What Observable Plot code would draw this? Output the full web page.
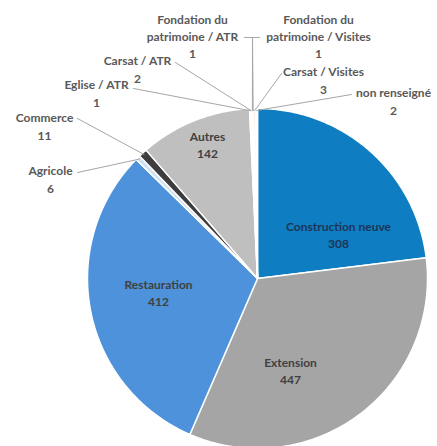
<!DOCTYPE html>
<html>
<head>
<meta charset="utf-8">
<script src="https://cdn.jsdelivr.net/npm/d3@7"></script>
<script src="https://cdn.jsdelivr.net/npm/@observablehq/plot@0.6"></script>
<style>
  html, body { margin: 0; padding: 0; background: #fff; }
  #chart { width: 437px; height: 446px; }
</style>
</head>
<body>
<div id="chart"></div>
<script>
// ---- data ----
const categories = ["Construction neuve", "Extension", "Restauration", "Agricole", "Commerce", "Autres",
  "Eglise / ATR", "Carsat / ATR", "Fondation du patrimoine / ATR", "Fondation du patrimoine / Visites",
  "Carsat / Visites", "non renseigné"];
const values = [308, 447, 412, 6, 11, 142, 1, 2, 1, 1, 3, 2];
const labelNames = ["Construction neuve", "Extension", "Restauration", "Agricole", "Commerce", "Autres",
  "Eglise / ATR", "Carsat / ATR", "Fondation du\npatrimoine / ATR", "Fondation du\npatrimoine / Visites",
  "Carsat / Visites", "non renseigné"];

// ---- styles & layout ----
const colors = ["#0f7dc2", "#a5a5a5", "#4d92da", "#cfe2f3", "#3d3d3d", "#bfbfbf",
  "#f4f4f4", "#efefef", "#f7f7f7", "#f2f2f2", "#fbe4d5", "#f8d9cf"];
const W = 437, H = 446;
const CX = 257, CY = 278, R = 170;
// label block centres (px) ; inside labels flagged
const labelPos = [[338, 234, 1], [290, 370, 1], [158, 292, 1], [50, 178, 0], [44, 125, 0], [207, 144, 1],
  [96, 92, 0], [137, 68, 0], [192, 35, 0], [318, 35, 0], [323, 79, 0], [393, 100, 0]];
// leader start (label side) and optional elbow
const leaderFrom = {
  "Agricole": [[77, 172]],
  "Commerce": [[77, 118]],
  "Eglise / ATR": [[133, 88]],
  "Carsat / ATR": [[175, 62]],
  "Fondation du patrimoine / ATR": [[244, 37], [252, 37]],
  "Fondation du patrimoine / Visites": [[259, 37], [252, 37]],
  "Carsat / Visites": [[281, 73]],
  "non renseigné": [[351, 94]]
};

// ---- geometry ----
const arcs = d3.pie().sort(null).value(d => d)(values);
const pt = (a, r) => [CX + r * Math.sin(a), CY - r * Math.cos(a)];
const slicePts = [];
arcs.forEach((a, i) => {
  const cat = categories[i];
  slicePts.push({cat, x: CX, y: CY});
  const n = Math.max(2, Math.ceil((a.endAngle - a.startAngle) / 0.01));
  for (let k = 0; k <= n; k++) {
    const ang = a.startAngle + (a.endAngle - a.startAngle) * k / n;
    const [x, y] = pt(ang, R);
    slicePts.push({cat, x, y});
  }
});

const leaderPts = [];
Object.entries(leaderFrom).forEach(([cat, pts]) => {
  const i = categories.indexOf(cat);
  const a = arcs[i];
  const mid = (a.startAngle + a.endAngle) / 2;
  pts.forEach(([x, y]) => leaderPts.push({cat, x, y}));
  const [ex, ey] = pt(mid, R - 2);
  leaderPts.push({cat, x: ex, y: ey});
});

const labels = categories.map((c, i) => ({
  cat: c,
  text: labelNames[i] + "\n" + values[i],
  x: labelPos[i][0], y: labelPos[i][1], inside: labelPos[i][2] === 1
}));

const font = {fontFamily: "Lato", fontSize: 12, fontWeight: "bold"};

const chart = Plot.plot({
  width: W, height: H,
  margin: 0,
  x: {domain: [0, W], range: [0, W], axis: null},
  y: {domain: [0, H], range: [0, H], axis: null},
  color: {domain: categories, range: colors},
  style: {background: "#fff"},
  marks: [
    Plot.line(slicePts, {x: "x", y: "y", z: "cat", fill: "cat", stroke: "#fff", strokeWidth: 1.5, curve: "linear-closed"}),
    Plot.line(leaderPts, {x: "x", y: "y", z: "cat", stroke: "#a6a6a6", strokeWidth: 1}),
    Plot.text(labels.filter(d => d.cat === "Construction neuve"), {x: "x", y: "y", text: "text", fill: "#1d3557", lineHeight: 1.4, ...font}),
    Plot.text(labels.filter(d => d.inside && d.cat !== "Construction neuve"), {x: "x", y: "y", text: "text", fill: "#404040", lineHeight: 1.4, ...font}),
    Plot.text(labels.filter(d => !d.inside), {x: "x", y: "y", text: "text", fill: "#595959", lineHeight: 1.45, ...font})
  ]
});
document.getElementById("chart").appendChild(chart);
</script>
</body>
</html>
